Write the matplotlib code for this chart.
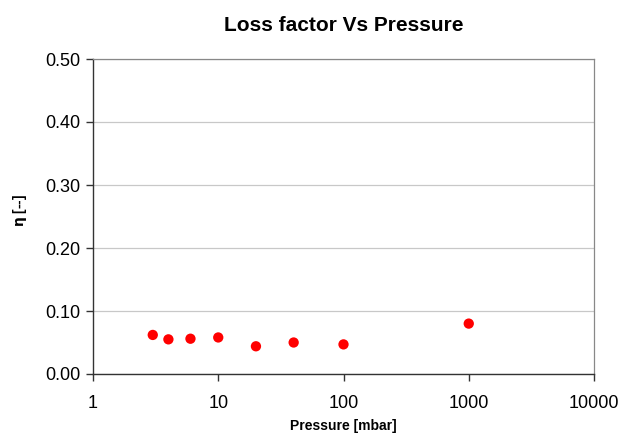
import matplotlib
matplotlib.use('Agg')
import matplotlib.pyplot as plt
from matplotlib.ticker import FixedLocator, FormatStrFormatter, NullLocator

plt.rcParams['font.family'] = ['Liberation Sans', 'DejaVu Sans']

pressure = [3, 4, 6, 10, 20, 40, 100, 1000]
loss_factor = [0.062, 0.055, 0.056, 0.058, 0.044, 0.050, 0.047, 0.080]

x_ticks = [1, 10, 100, 1000, 10000]
y_ticks = [0.0, 0.1, 0.2, 0.3, 0.4, 0.5]

fig = plt.figure(figsize=(6.22, 4.34), dpi=100)
ax = fig.add_axes([93/622, 1 - 374/434, (594-93)/622, (374-59)/434])

ax.scatter(pressure, loss_factor, s=55, color='#ff0000', edgecolors='none', zorder=3)

ax.set_xscale('log')
ax.set_xlim(1, 10000)
ax.set_ylim(0, 0.5)
ax.xaxis.set_major_locator(FixedLocator(x_ticks))
ax.xaxis.set_minor_locator(NullLocator())
ax.set_xticklabels([str(t) for t in x_ticks])
ax.yaxis.set_major_locator(FixedLocator(y_ticks))
ax.yaxis.set_major_formatter(FormatStrFormatter('%.2f'))

ax.grid(axis='y', color='#c8c8c8', linewidth=0.9)
ax.set_axisbelow(True)

for s in ['left', 'bottom']:
    ax.spines[s].set_color('#333333')
    ax.spines[s].set_linewidth(1.0)
for s in ['top', 'right']:
    ax.spines[s].set_color('#888888')
    ax.spines[s].set_linewidth(0.9)

ax.tick_params(axis='both', direction='out', length=5, width=1.0,
               color='#333333', labelsize=13)
ax.tick_params(axis='x', pad=10)
ax.tick_params(axis='y', pad=4)

ax.set_title('Loss factor Vs Pressure', fontsize=15, fontweight='bold', pad=20)
# axis titles placed by figure coordinates so they sit like the original
fig.text((93 + 594) / 2 / 622, 1 - 426 / 434, 'Pressure [mbar]', fontsize=10,
         fontweight='bold', ha='center', va='center')
fig.text(20 / 622, 1 - 210 / 434, r'$\mathbf{\eta}$ [--]', fontsize=10,
         fontweight='bold', ha='center', va='center', rotation=90)

fig.savefig('out.png', dpi=100)
